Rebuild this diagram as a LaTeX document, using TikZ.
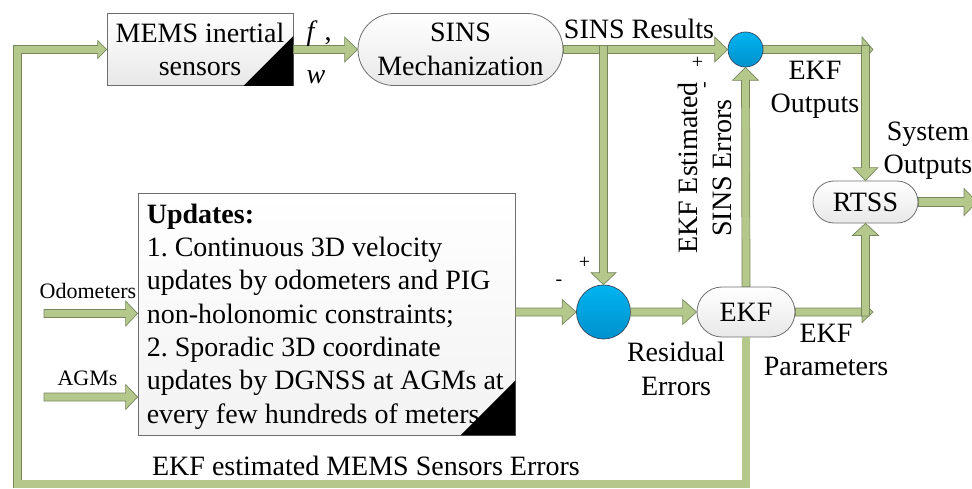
\documentclass[tikz,border=0pt]{standalone}
\usepackage{fontspec}
\setmainfont{Liberation Serif}
\frenchspacing
\usetikzlibrary{calc,shapes.geometric}
\definecolor{arrgreen}{RGB}{181,200,140}
\definecolor{arredge}{RGB}{120,134,94}
\definecolor{boxedge}{RGB}{110,110,110}
\definecolor{cirtop}{RGB}{0,180,240}
\definecolor{cirbot}{RGB}{0,145,205}
\definecolor{ciredge}{RGB}{50,70,90}
\newcommand\blockarr[5]{%
  \filldraw[arrst] let \p1=#1, \p2=#2, \p3=($(\p2)!#4!(\p1)$) in
    ($(\p1)!#3!90:(\p2)$) -- ($(\p3)!#3!90:(\p2)$) -- ($(\p3)!#5!90:(\p2)$) -- (\p2)
    -- ($(\p3)!#5!-90:(\p2)$) -- ($(\p3)!#3!-90:(\p2)$) -- ($(\p1)!#3!-90:(\p2)$) -- cycle;}
\tikzset{
  arrst/.style={fill=arrgreen, draw=arredge, line width=0.7pt, line join=miter},
  shaftout/.style={draw=arredge, line width=8.7pt, line join=miter},
  shaftin/.style={draw=arrgreen, line width=7.3pt, line join=miter},
  boxst/.style={draw=boxedge, line width=0.8pt, top color=white, bottom color=gray!18,
    font=\fontsize{28}{33.3}\selectfont, align=center, inner sep=0pt},
  roundbox/.style={boxst, rounded corners=#1},
  sumst/.style={circle, draw=ciredge, line width=0.7pt, top color=cirtop, bottom color=cirbot, inner sep=0pt},
  lab/.style={font=\fontsize{28}{33.3}\selectfont, align=center, inner sep=0pt},
  smalllab/.style={font=\fontsize{22}{26}\selectfont, inner sep=0pt},
  signlab/.style={font=\fontsize{20}{24}\selectfont, inner sep=0pt},
}
\begin{document}
\begin{tikzpicture}[x=1pt,y=1pt]
\useasboundingbox (0,0) rectangle (972,-488);
% nodes
\node[boxst, minimum width=186pt, minimum height=72pt] (mems) at (200,-49.5) {MEMS inertial\\sensors};
\node[roundbox=36pt, minimum width=205pt, minimum height=72pt] (sins) at (460.5,-49.5) {SINS\\Mechanization};
\node[sumst, minimum size=35pt] (c1) at (745.5,-49.5) {};
\node[sumst, minimum size=54pt] (c2) at (603.5,-312) {};
\node[roundbox=25pt, minimum width=98pt, minimum height=50pt] (ekf) at (746,-312) {EKF};
\node[roundbox=21pt, minimum width=105pt, minimum height=42pt] (rtss) at (865.5,-202) {RTSS};
\node[boxst, bottom color=gray!10, minimum width=377pt, minimum height=242pt] (upd) at (326.5,-314) {};
\node[lab, align=left, anchor=west] (updtxt) at ($(upd.west)+(9,-2.5)$)
 {\textbf{Updates:}\\1. Continuous 3D velocity\\updates by odometers and PIG\\non-holonomic constraints;\\2. Sporadic 3D coordinate\\updates by DGNSS at AGMs at\\every few hundreds of meters};
\fill (mems.south east) -- ++(-50,0) -- ++(50,50) -- cycle;
\fill (upd.south east) -- ++(-55,0) -- ++(55,55) -- cycle;
% coordinates
\coordinate (o1) at (873,-49.5);
\coordinate (o2) at (873,-312);
\coordinate (sysout) at (977,-202);
\coordinate (odoS) at (44,-313.5);
\coordinate (agmS) at (44,-397);
\coordinate (fbBL) at (17.5,-484);
% feedback path
\draw[shaftout] (ekf.south) -- (ekf.south |- fbBL) -- (fbBL) -- (fbBL |- mems.west) -- ($(mems.west)+(-9,0)$);
\filldraw[arrst] (mems.west) -- ++(-9,9) -- ++(0,-18) -- cycle;
\draw[shaftin] (ekf.south) -- (ekf.south |- fbBL) -- (fbBL) -- (fbBL |- mems.west) -- ($(mems.west)+(-8.5,0)$);
% connectors
\blockarr{(mems.east)}{(sins.west)}{4pt}{13pt}{12.5pt}
\blockarr{(sins.east)}{(c1.west)}{4pt}{13pt}{12.5pt}
\blockarr{($(c2.north |- sins.east)+(0,4)$)}{(c2.north)}{4pt}{12pt}{12.5pt}
\blockarr{(c1.east)}{(o1)}{4pt}{11pt}{12.5pt}
\blockarr{($(rtss.north |- o1)+(0,4)$)}{(rtss.north)}{4pt}{13pt}{12.5pt}
\blockarr{(ekf.north)}{(c1.south)}{4pt}{13pt}{13pt}
\blockarr{(upd.east |- c2.west)}{(c2.west)}{4pt}{14pt}{12.5pt}
\blockarr{(c2.east)}{(ekf.west)}{4pt}{14pt}{12.5pt}
\blockarr{(ekf.east)}{(o2)}{4pt}{11pt}{10.5pt}
\blockarr{($(rtss.south |- o2)+(0,-4)$)}{(rtss.south)}{4pt}{12pt}{13pt}
\blockarr{(rtss.east)}{(sysout)}{4.5pt}{13pt}{13.5pt}
\blockarr{(odoS)}{(upd.west |- odoS)}{4pt}{12pt}{12.5pt}
\blockarr{(agmS)}{(upd.west |- agmS)}{4pt}{12pt}{12.5pt}
% labels
\node[lab, anchor=base] (fl) at (319,-40) {\textit{f} ,};
\node[lab, anchor=base] (wl) at (316,-83) {\textit{w}};
\node[lab, anchor=base] (sinsres) at (639,-38) {SINS Results};
\node[signlab] (p1) at (697.5,-63) {+};
\node[signlab, rotate=90] (m1) at (707,-85) {-};
\node[signlab] (p2) at (584.5,-263) {+};
\node[signlab] (m2) at (559,-283) {-};
\node[lab] (ekfout) at (815,-90) {EKF\\Outputs};
\node[lab] (sysoutl) at (928,-151) {System\\Outputs};
\node[lab] (resid) at (676,-369) {Residual\\Errors};
\node[lab] (ekfpar) at (826,-350) {EKF\\Parameters};
\node[lab, rotate=90] (ekfest) at (705,-168) {EKF Estimated\\SINS Errors};
\node[smalllab, anchor=base] (odo) at (88,-298) {Odometers};
\node[smalllab, anchor=base] (agm) at (87.5,-385) {AGMs};
\node[lab, anchor=base] (fbl) at (366,-475) {EKF estimated MEMS Sensors Errors};
\end{tikzpicture}
\end{document}
